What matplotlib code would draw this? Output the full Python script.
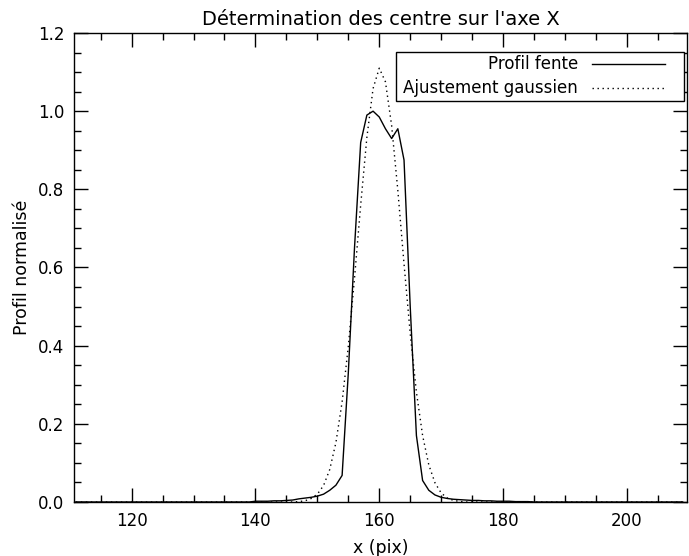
import matplotlib
matplotlib.use("Agg")
import matplotlib.pyplot as plt
from matplotlib.ticker import MultipleLocator
from matplotlib.patches import Rectangle
from matplotlib.lines import Line2D

plt.rcParams['font.family'] = ['DejaVu Sans']

title = "Détermination des centre sur l'axe X"
xlabel = "x (pix)"
ylabel = "Profil normalisé"
labels = ["Profil fente", "Ajustement gaussien"]

# pixel positions
x_pix = list(range(111, 210))

# measured slit profile (normalised), indexed by pixel 111..209
profil = ([0.0] * 29 +                       # 111..139
          [0.002, 0.002, 0.002, 0.003, 0.003, 0.004, 0.005, 0.008, 0.010, 0.012,  # 140..149
           0.015, 0.020, 0.030, 0.043, 0.068, 0.33, 0.65, 0.92, 0.99, 1.00,      # 150..159
           0.985, 0.955, 0.93, 0.955, 0.875, 0.50, 0.17, 0.055, 0.030, 0.018,     # 160..169
           0.012, 0.009, 0.007, 0.006, 0.005, 0.004, 0.004, 0.003, 0.003, 0.002,  # 170..179
           0.002, 0.002, 0.001, 0.001, 0.001] +                                   # 180..184
          [0.0] * 25)                                                             # 185..209

# gaussian fit values, indexed by pixel 111..209
gauss = ([0.0] * 36 +                                                             # 111..146
         [0.001, 0.003, 0.009, 0.020, 0.042, 0.083, 0.152, 0.256, 0.398, 0.572,    # 147..156
          0.760, 0.933, 1.058, 1.110, 1.075, 0.963, 0.797, 0.609, 0.431, 0.281,    # 157..166
          0.170, 0.095, 0.049, 0.023, 0.010, 0.004, 0.0015] +                      # 167..173
         [0.0] * 36)                                                              # 174..209

styles = ['-', (0, (1, 2.6))]

fig = plt.figure(figsize=(6.89, 5.56), dpi=100)
ax = fig.add_axes([74/689, 54/556, 613/689, 469/556])

ax.plot(x_pix, profil, color='black', lw=1.0, linestyle=styles[0])
ax.plot(x_pix, gauss, color='black', lw=1.0, linestyle=styles[1])

ax.set_xlim(110.7, 209.7)
ax.set_ylim(0, 1.2)
ax.xaxis.set_major_locator(MultipleLocator(20))
ax.xaxis.set_minor_locator(MultipleLocator(5))
ax.yaxis.set_major_locator(MultipleLocator(0.2))
ax.yaxis.set_minor_locator(MultipleLocator(0.05))
ax.yaxis.set_major_formatter(plt.FuncFormatter(lambda v, p: f"{v:.1f}"))

ax.tick_params(which='both', direction='in', top=True, right=True, width=1.0,
               labelsize=12, color='black')
ax.tick_params(which='major', length=10, pad=7)
ax.tick_params(which='minor', length=5)
for s in ax.spines.values():
    s.set_linewidth(1.0)

ax.set_title(title, fontsize=14, pad=6)
ax.set_xlabel(xlabel, fontsize=12.5, labelpad=7)
ax.set_ylabel(ylabel, fontsize=12.5, labelpad=5)

# IDL-style legend box (right-aligned labels, line samples to the right)
box_x0, box_x1 = (396-74)/613, (684-74)/613
box_y0, box_y1 = (502-101)/469, (502-52)/469
ax.add_patch(Rectangle((box_x0, box_y0), box_x1 - box_x0, box_y1 - box_y0,
                       transform=ax.transAxes, facecolor='white',
                       edgecolor='black', lw=1.0, zorder=5))
text_x = (578-74)/613
line_x0, line_x1 = (592-74)/613, (665-74)/613
rows_y = [(502-64)/469, (502-88)/469]
for lab, st, ry in zip(labels, styles, rows_y):
    ax.text(text_x, ry, lab, transform=ax.transAxes, ha='right', va='center',
            fontsize=12, zorder=6)
    ax.add_line(Line2D([line_x0, line_x1], [ry, ry], transform=ax.transAxes,
                       color='black', lw=1.0, linestyle=st, zorder=6))

fig.savefig("out.png", dpi=100)
